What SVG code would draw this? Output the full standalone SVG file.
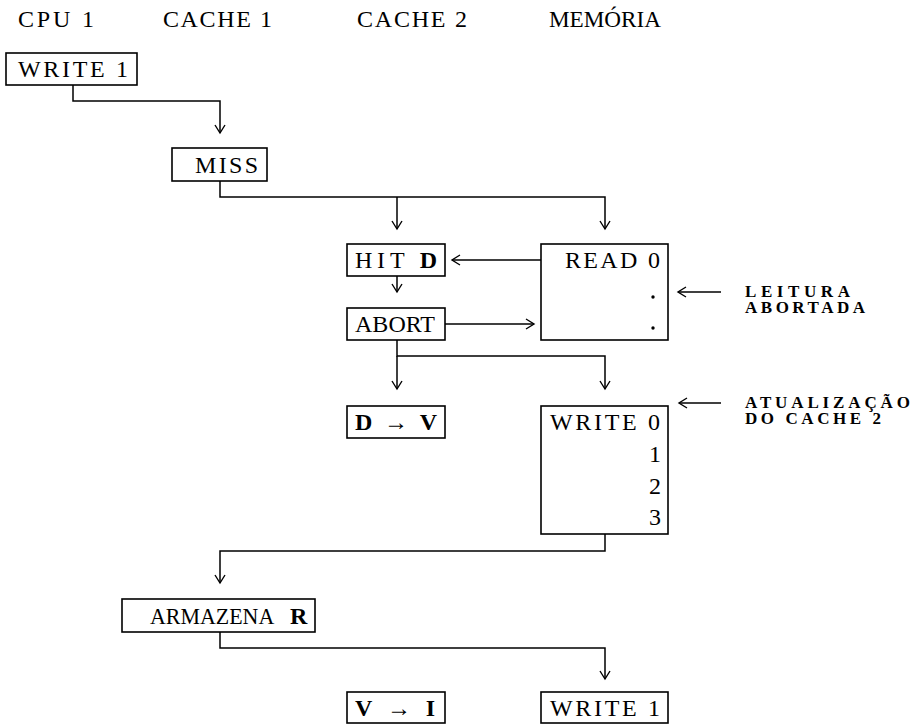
<svg xmlns="http://www.w3.org/2000/svg" width="918" height="726" viewBox="0 0 918 726">
<defs>
<marker id="ah" viewBox="-10 -6 12 12" refX="0" refY="0" markerWidth="12" markerHeight="12" markerUnits="userSpaceOnUse" orient="auto">
<path d="M-8,-5 L0,0 L-8,5" fill="none" stroke="#000" stroke-width="1.4"/>
</marker>
<style>
.bg{fill:#fff}
.box{fill:#fff;stroke:#000;stroke-width:1.6}
.t{font-family:"Liberation Serif","DejaVu Serif",serif;font-size:24px;fill:#000}
.b{font-weight:bold}
.lab{font-family:"Liberation Serif","DejaVu Serif",serif;font-size:17px;font-weight:bold;fill:#000}
.ca{fill:none;stroke:#000;stroke-width:1.5;marker-end:url(#ah)}
</style>
</defs>
<rect class="bg" x="0" y="0" width="918" height="726"/>
<g id="headers">
<text class="t" x="18" y="27" textLength="76">CPU 1</text>
<text class="t" x="163" y="27" textLength="109">CACHE 1</text>
<text class="t" x="357" y="27" textLength="110">CACHE 2</text>
<text class="t" x="549" y="27" textLength="112" lengthAdjust="spacingAndGlyphs">MEMÓRIA</text>
</g>
<g id="connectors">
<path class="ca" d="M73,85 V101 H220 V133"/>
<path class="ca" d="M220,181 V197 H605 V229"/>
<path class="ca" d="M397,197 V229"/>
<path class="ca" d="M541,260 H452"/>
<path class="ca" d="M397,276 V292"/>
<path class="ca" d="M445,324 H534"/>
<path class="ca" d="M397,340 V356 H605 V389"/>
<path class="ca" d="M397,356 V389"/>
<path class="ca" d="M605,534 V551 H220 V583"/>
<path class="ca" d="M220,632 V648 H605 V679"/>
<path class="ca" d="M721,292 H678"/>
<path class="ca" d="M721,403 H679"/>
</g>
<g id="n-write1">
<rect class="box" x="6" y="53" width="131" height="32"/>
<text class="t" x="18" y="77" textLength="110">WRITE 1</text>
</g>
<g id="n-miss">
<rect class="box" x="172" y="148" width="95" height="33"/>
<text class="t" x="195" y="173" textLength="63">MISS</text>
</g>
<g id="n-hitd">
<rect class="box" x="347" y="244" width="98" height="32"/>
<text class="t" x="355" y="268" textLength="82">HIT <tspan class="b">D</tspan></text>
</g>
<g id="n-read0">
<rect class="box" x="541" y="244" width="127" height="96"/>
<text class="t" x="565" y="268" textLength="95">READ 0</text>
<circle cx="653" cy="297" r="1.7"/>
<circle cx="653" cy="328" r="1.7"/>
</g>
<g id="n-abort">
<rect class="box" x="347" y="308" width="98" height="32"/>
<text class="t" x="355" y="332" textLength="80">ABORT</text>
</g>
<g id="l-leitura">
<text class="lab" x="745" y="297" textLength="105">LEITURA</text>
<text class="lab" x="745" y="313" textLength="120">ABORTADA</text>
</g>
<g id="n-dv">
<rect class="box" x="347" y="406" width="98" height="32"/>
<text class="t" x="355" y="430" textLength="82"><tspan class="b">D</tspan> → <tspan class="b">V</tspan></text>
</g>
<g id="n-write0">
<rect class="box" x="541" y="406" width="127" height="128"/>
<text class="t" x="550" y="430" textLength="110">WRITE 0</text>
<text class="t" x="661" y="462" text-anchor="end">1</text>
<text class="t" x="661" y="494" text-anchor="end">2</text>
<text class="t" x="661" y="525" text-anchor="end">3</text>
</g>
<g id="l-atualizacao">
<text class="lab" x="745" y="408" textLength="165">ATUALIZAÇÃO</text>
<text class="lab" x="745" y="424" textLength="136">DO CACHE 2</text>
</g>
<g id="n-armazena">
<rect class="box" x="122" y="599" width="193" height="33"/>
<text class="t" y="624"><tspan x="150" textLength="123" lengthAdjust="spacingAndGlyphs">ARMAZENA</tspan> <tspan class="b" x="290">R</tspan></text>
</g>
<g id="n-vi">
<rect class="box" x="347" y="692" width="98" height="31"/>
<text class="t" x="355" y="716" textLength="80"><tspan class="b">V</tspan> → <tspan class="b">I</tspan></text>
</g>
<g id="n-write1b">
<rect class="box" x="541" y="692" width="127" height="31"/>
<text class="t" x="550" y="716" textLength="110">WRITE 1</text>
</g>
</svg>
